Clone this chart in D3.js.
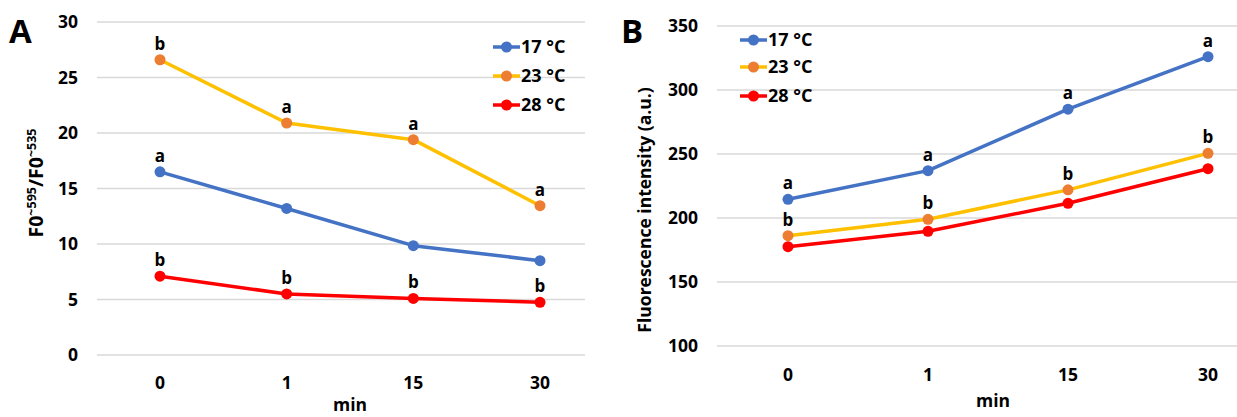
<!DOCTYPE html>
<html>
<head>
<meta charset="utf-8">
<script src="https://cdn.jsdelivr.net/npm/d3@7"></script>
<style>
  body { margin: 0; background: #fff; }
  text { font-family: "Open Sans", sans-serif; font-weight: bold; fill: #000; }
</style>
</head>
<body>
<div id="chart"></div>
<script>
const width = 1237, height = 417;

const minutes = ["0", "1", "15", "30"];
const seriesNames = ["17 °C", "23 °C", "28 °C"];
const lineColors = ["#4472C4", "#FFC000", "#FF0000"];
const dotColors = ["#4472C4", "#ED7D31", "#FF0000"];

// panel A: F0~595/F0~535
const ratio17 = [16.5, 13.2, 9.85, 8.5];
const ratio23 = [26.6, 20.9, 19.4, 13.45];
const ratio28 = [7.1, 5.5, 5.1, 4.75];
const lettersA17 = ["a", "", "", ""];
const lettersA23 = ["b", "a", "a", "a"];
const lettersA28 = ["b", "b", "b", "b"];
const ticksA = [0, 5, 10, 15, 20, 25, 30];

// panel B: fluorescence intensity
const fluo17 = [214.6, 237, 285, 326];
const fluo23 = [186.2, 199, 222, 250.5];
const fluo28 = [177.6, 189.6, 211.5, 238.5];
const lettersB17 = ["a", "a", "a", "a"];
const lettersB23 = ["b", "b", "b", "b"];
const lettersB28 = ["", "", "", ""];
const ticksB = [100, 150, 200, 250, 300, 350];

const svg = d3.select("#chart")
  .append("svg")
  .attr("width", width)
  .attr("height", height);

function panel(opt) {
  const g = svg.append("g");
  const x = d3.scalePoint().domain(minutes).range(opt.xRange);
  const y = d3.scaleLinear().domain(opt.yDomain).range(opt.yRange);

  // gridlines
  g.selectAll(".grid").data(opt.ticks).join("line")
    .attr("x1", opt.gridX[0]).attr("x2", opt.gridX[1])
    .attr("y1", d => y(d)).attr("y2", d => y(d))
    .attr("stroke", "#d9d9d9").attr("stroke-width", 1.3);

  // y tick labels
  g.selectAll(".ytick").data(opt.ticks).join("text")
    .attr("x", opt.yLabelX).attr("y", d => y(d))
    .attr("dy", "0.35em").attr("text-anchor", "end")
    .attr("font-size", 17.5).text(d => d);

  // x tick labels
  g.selectAll(".xtick").data(minutes).join("text")
    .attr("x", d => x(d)).attr("y", opt.xLabelY)
    .attr("text-anchor", "middle").attr("font-size", 17.5).text(d => d);

  g.append("text")
    .attr("x", opt.minX).attr("y", opt.minY)
    .attr("text-anchor", "middle").attr("font-size", 17.5).text("min");

  const line = d3.line().x((d, i) => x(minutes[i])).y(d => y(d));

  opt.series.forEach((vals, k) => {
    g.append("path").datum(vals)
      .attr("fill", "none").attr("stroke", lineColors[k])
      .attr("stroke-width", 3.5).attr("stroke-linejoin", "round")
      .attr("d", line);
  });
  opt.series.forEach((vals, k) => {
    g.selectAll(null).data(vals).join("circle")
      .attr("cx", (d, i) => x(minutes[i])).attr("cy", d => y(d))
      .attr("r", 5.5).attr("fill", dotColors[k]);
    g.selectAll(null).data(vals).join("text")
      .attr("x", (d, i) => x(minutes[i])).attr("y", d => y(d) - 10)
      .attr("text-anchor", "middle").attr("font-size", 17)
      .text((d, i) => opt.letters[k][i]);
  });

  // legend
  seriesNames.forEach((name, k) => {
    const ly = opt.legendY[k];
    const lx = opt.legendX;
    g.append("line")
      .attr("x1", lx).attr("x2", lx + 27).attr("y1", ly).attr("y2", ly)
      .attr("stroke", lineColors[k]).attr("stroke-width", 3.5);
    g.append("circle").attr("cx", lx + 13.5).attr("cy", ly).attr("r", 5.5)
      .attr("fill", dotColors[k]);
    g.append("text").attr("x", lx + 28).attr("y", ly).attr("dy", "0.35em")
      .attr("font-size", 18).text(name);
  });

  // panel letter
  g.append("text").attr("x", opt.letterX).attr("y", 43)
    .attr("font-family", "Liberation Sans").attr("font-size", 33)
    .text(opt.letter);

  return g;
}

const gA = panel({
  xRange: [160, 540], yDomain: [0, 30], yRange: [355, 22], gridX: [97, 585],
  ticks: ticksA, yLabelX: 78, xLabelY: 389, minX: 350, minY: 411,
  series: [ratio17, ratio23, ratio28], letters: [lettersA17, lettersA23, lettersA28],
  legendX: 493, legendY: [47, 76, 105], letterX: 9, letter: "A"
});

const gB = panel({
  xRange: [788, 1208], yDomain: [100, 350], yRange: [346, 26], gridX: [717, 1237],
  ticks: ticksB, yLabelX: 698, xLabelY: 381, minX: 993, minY: 407,
  series: [fluo17, fluo23, fluo28], letters: [lettersB17, lettersB23, lettersB28],
  legendX: 740, legendY: [40, 67, 96], letterX: 621, letter: "B"
});

// y axis titles
const tA = gA.append("text")
  .attr("transform", "translate(43,183) rotate(-90)")
  .attr("text-anchor", "middle").attr("font-size", 19.5);
tA.append("tspan").text("F0");
tA.append("tspan").attr("dy", -7).attr("font-size", 12.5).text("~595");
tA.append("tspan").attr("dy", 7).text("/F0");
tA.append("tspan").attr("dy", -7).attr("font-size", 12.5).text("~535");

gB.append("text")
  .attr("transform", "translate(651,210) rotate(-90)")
  .attr("text-anchor", "middle").attr("font-size", 17.5)
  .text("Fluorescence intensity (a.u.)");
</script>
</body>
</html>
